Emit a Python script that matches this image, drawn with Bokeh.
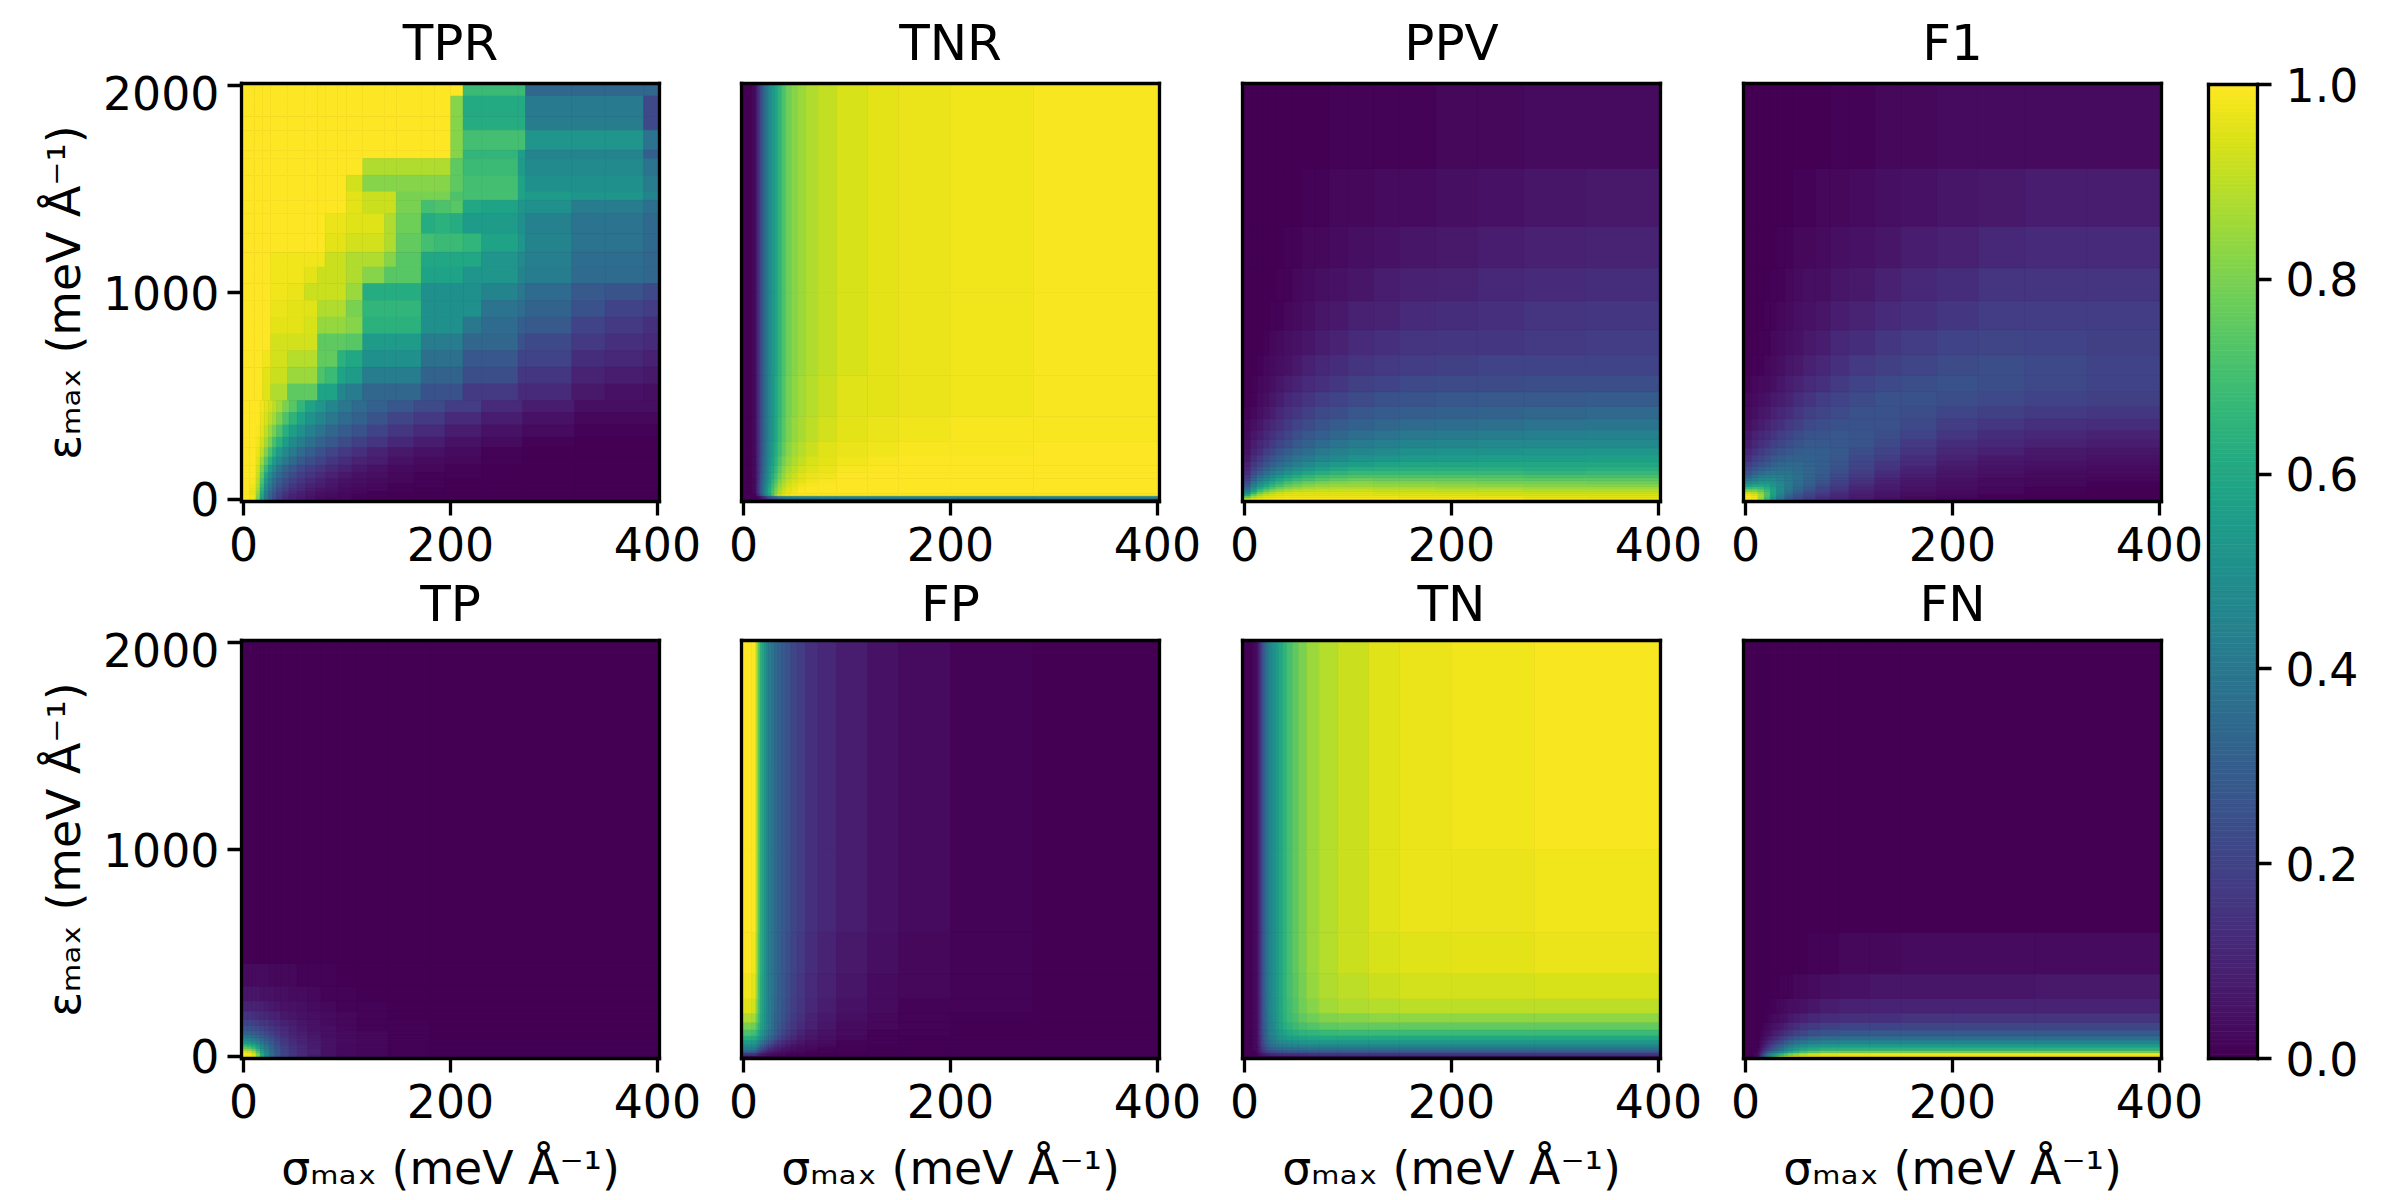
from bokeh.core.properties import value
from bokeh.embed import file_html
from bokeh.layouts import column, row
from bokeh.models import ColumnDataSource, FixedTicker, LinearAxis, PrintfTickFormatter, Range1d
from bokeh.palettes import Viridis256
from bokeh.plotting import figure
from bokeh.resources import INLINE
from bokeh.transform import linear_cmap

FONT = "DejaVu Sans"
X_LABEL = "σₘₐₓ (meV Å⁻¹)"
Y_LABEL = "εₘₐₓ (meV Å⁻¹)"
X_TICKS = [0, 200, 400]
Y_TICKS = [0, 1000, 2000]
CB_TICKS = [0.0, 0.2, 0.4, 0.6, 0.8, 1.0]
TITLES_TOP = ["TPR", "TNR", "PPV", "F1"]
TITLES_BOTTOM = ["TP", "FP", "TN", "FN"]

# ---- TPR upper part (rows listed from the top of the panel downwards), values in percent
tpr_sigma = [-2, 10.3, 18.4, 26.4, 42.6, 58.8, 71.7, 78.8, 91.1, 99.2, 115.3, 136.3, 147.6, 171.9, 184.8, 200.3, 212.3, 230, 265.6, 272.7, 317.3, 349.6, 386.8, 402]
tpr_eps = [2010, 1949, 1849, 1784, 1687, 1647, 1566, 1486, 1445, 1381, 1284, 1195, 1123, 1042, 961, 881, 800, 719, 639, 558, 477]
tpr_vals = [
    [100,100,100,100,100,100,100,100,100,100,100,100,100,100,100,100,68,68,68,33,33,33,33],
    [100,100,100,100,100,100,100,100,100,100,100,100,100,100,100,82,61,61,61,41,41,41,22],
    [100,100,100,100,100,100,100,100,100,100,100,100,100,100,100,82,62,62,62,42,42,42,22],
    [100,100,100,100,100,100,100,100,100,100,100,100,100,100,100,82,70,70,70,52,52,52,38],
    [100,100,100,100,100,100,100,100,100,100,100,100,100,100,100,82,66,66,56,45,45,45,30],
    [100,100,100,100,100,100,100,100,100,100,88,88,88,88,88,75,68,68,55,48,48,48,38],
    [100,100,100,100,100,100,100,100,100,93,82,82,82,82,82,75,70,70,58,50,50,50,42],
    [100,100,100,100,100,100,100,100,100,96,92,92,80,80,80,72,70,70,58,55,52,52,45],
    [100,100,100,100,100,100,100,100,100,96,92,92,80,70,72,74,60,58,52,50,42,42,37],
    [100,100,100,100,100,100,100,97,97,95,95,88,78,62,64,62,55,55,50,44,38,38,34],
    [100,100,100,100,100,100,100,96,96,93,93,88,76,70,68,68,66,58,52,45,38,38,34],
    [100,100,100,98,98,98,98,92,92,88,88,82,74,60,60,60,60,52,48,43,36,36,33],
    [100,100,100,98,98,96,92,92,92,88,82,74,74,58,58,58,52,52,45,42,35,35,33],
    [100,100,100,98,97,92,92,92,92,85,62,62,62,50,50,50,50,45,40,35,28,26,22],
    [100,100,100,97,96,95,88,88,88,80,66,66,66,50,50,50,50,38,36,32,25,20,18],
    [100,100,100,96,96,94,84,84,84,82,64,64,64,50,50,50,40,35,30,28,20,17,14],
    [100,100,100,93,93,93,75,75,75,74,55,55,55,42,42,42,33,33,25,22,17,14,12],
    [100,100,98,93,89,89,76,76,64,60,50,50,50,37,37,37,27,27,20,20,13,11,9],
    [100,100,96,92,85,85,72,68,58,55,42,42,42,32,32,32,24,24,16,16,10,8,7],
    [100,100,95,88,75,75,58,58,46,42,33,33,33,25,25,25,17,17,12,12,7,5,4],
]
# ---- TPR lower part
tpr_low_sigma = [-2, 6, 12, 16, 20, 24, 28, 32, 38, 44, 52, 60, 70, 80, 92, 105, 120, 140, 165, 195, 230, 270, 320, 402]
tpr_low_eps = [477, 420, 360, 300, 250, 205, 165, 130, 100, 75, 55, 38, 24, 12, -10]
tpr_low_vals = [
    [100,100,100,98,96,93,90,86,80,74,66,58,52,46,40,35,31,27,23,18,12,8,4],
    [100,100,100,97,94,90,86,80,72,65,58,51,46,40,35,31,26,21,17,12,8,5,2],
    [100,100,99,96,91,85,79,72,63,56,50,44,38,33,29,25,20,16,12,8,5,3,1],
    [100,100,98,93,87,80,71,64,55,48,42,37,32,27,23,19,15,11,8,5,3,1,0],
    [100,100,97,90,81,72,63,55,47,41,35,30,25,21,17,14,10,7,5,3,1,0,0],
    [100,100,95,85,74,64,55,47,40,34,28,24,20,16,13,10,8,5,3,2,1,0,0],
    [100,100,93,80,67,55,47,39,32,27,22,18,15,12,9,7,5,3,2,1,0,0,0],
    [100,100,92,76,60,49,41,34,28,23,18,15,12,9,7,5,4,2,1,1,0,0,0],
    [100,99,90,72,55,44,36,29,24,19,15,12,9,7,5,4,3,2,1,0,0,0,0],
    [100,98,88,68,50,40,33,26,21,16,13,10,8,6,4,3,2,1,1,0,0,0,0],
    [100,97,86,65,47,37,30,23,18,14,11,8,6,5,3,2,2,1,0,0,0,0,0],
    [100,97,84,62,44,34,27,21,16,12,9,7,5,4,3,2,1,1,0,0,0,0,0],
    [100,98,82,60,42,32,25,19,14,10,8,6,4,3,2,1,1,0,0,0,0,0,0],
    [100,98,80,57,40,30,23,17,12,9,7,5,3,2,2,1,0,0,0,0,0,0,0],
]

# ---- grid for TNR / FP / TN / FN (rows from the bottom of the panel upwards)
edge_sigma = [-2, 8, 12, 14, 16, 18, 20, 22, 24, 27, 30, 33, 37, 41, 46, 52, 60, 72, 90, 120, 150, 200, 280, 402]
edge_eps = [-10, 5, 18, 30, 45, 60, 80, 100, 130, 165, 210, 280, 400, 600, 1000, 2010]

tnr_vals = [
    [0,0,0,1,1,2,2,2,3,3,3,4,4,4,4,4,4,4,4,4,4,4,4],
    [0,0,1,3,6,10,14,20,25,30,35,40,42,44,45,45,45,46,46,46,46,46,46],
    [0,1,6,14,24,34,44,52,60,72,84,92,96,98,100,100,100,100,100,100,100,100,100],
    [0,2,9,18,28,38,46,54,62,72,81,88,93,96,98,100,100,100,100,100,100,100,100],
    [0,2,9,18,28,37,45,53,61,70,79,86,91,95,97,99,100,100,100,100,100,100,100],
    [0,2,9,18,27,36,44,51,59,68,76,84,89,93,96,98,99,100,100,100,100,100,100],
    [0,2,8,17,26,34,42,49,56,65,73,81,87,91,94,96,98,99,100,100,100,100,100],
    [0,2,8,16,25,33,40,47,54,62,70,78,84,89,92,95,97,98,100,100,100,100,100],
    [0,2,8,15,24,32,39,45,52,59,67,75,82,87,90,93,95,97,99,100,100,100,100],
    [0,2,8,15,23,31,38,44,50,57,64,72,79,84,88,91,94,96,98,99,100,100,100],
    [0,2,8,15,22,30,36,43,49,55,62,69,76,82,86,89,92,95,97,98,99,99,100],
    [0,2,8,15,22,30,36,42,48,53,60,67,74,80,84,87,90,93,96,97,98,99,99],
    [0,2,8,15,22,30,36,42,48,52,59,66,73,79,83,86,89,92,95,96,97,98,99],
    [0,2,8,15,22,30,36,42,48,52,58,65,72,78,82,85,88,91,94,96,97,98,99],
    [0,2,8,15,22,30,36,42,48,52,58,65,72,78,82,85,88,91,94,96,97,98,99],
]
fp_vals = [
    [3,3,3,2,2,2,1,1,1,1,1,0,0,0,0,0,0,0,0,0,0,0,0],
    [15,15,12,10,8,7,6,5,4,3,3,2,2,1,1,1,0,0,0,0,0,0,0],
    [32,30,25,20,17,14,12,10,8,7,6,5,4,3,2,2,1,1,0,0,0,0,0],
    [42,40,36,30,26,22,20,16,13,11,9,8,6,5,4,3,2,1,1,0,0,0,0],
    [48,47,43,38,33,30,27,23,19,16,13,11,9,7,5,4,3,2,1,0,0,0,0],
    [55,54,50,46,42,38,34,30,26,22,18,15,12,10,8,6,4,3,1,1,0,0,0],
    [63,62,58,54,50,46,42,38,33,29,25,21,17,14,11,8,6,4,2,1,0,0,0],
    [72,70,66,60,56,52,48,43,38,34,29,25,21,17,14,10,7,5,3,1,1,0,0],
    [80,78,72,66,60,56,52,47,41,36,31,27,23,19,16,12,9,6,3,2,1,0,0],
    [88,86,78,70,62,58,53,47,42,37,32,29,25,21,17,14,10,7,4,2,1,0,0],
    [95,93,82,72,63,58,54,48,42,38,33,30,26,22,18,15,11,8,5,3,1,1,0],
    [98,96,85,73,64,59,54,48,42,38,34,30,27,23,19,16,12,9,6,3,2,1,0],
    [100,98,87,74,65,60,55,48,42,38,34,31,27,24,20,17,13,10,7,4,2,1,0],
    [100,100,88,75,65,60,55,48,42,38,34,31,28,25,21,18,14,11,8,5,3,1,0],
    [100,100,88,75,65,60,55,48,42,38,34,31,28,25,21,18,14,11,8,5,3,1,0],
]
tn_vals = [
    [0,0,1,1,2,2,3,3,3,4,4,4,4,4,4,5,5,5,5,5,5,5,5],
    [0,1,2,4,6,8,9,10,11,12,13,13,14,14,14,14,15,15,15,15,15,15,15],
    [0,1,4,8,12,15,18,20,22,23,25,26,26,27,27,27,28,28,28,28,28,28,28],
    [0,2,5,10,16,20,24,27,29,31,33,34,35,35,36,36,37,37,37,37,37,37,37],
    [0,2,5,11,18,23,28,32,35,37,39,41,42,43,44,44,45,45,45,45,45,45,45],
    [0,2,6,12,19,25,30,35,38,41,44,47,48,49,50,51,52,52,52,52,52,52,52],
    [0,2,6,12,20,27,32,37,41,44,48,52,54,56,57,58,59,60,60,60,60,60,60],
    [0,2,6,13,21,28,33,39,43,46,51,55,58,61,63,65,66,67,68,68,68,68,68],
    [0,2,6,13,22,29,34,40,44,48,53,58,62,65,68,71,73,75,76,76,76,76,76],
    [0,2,6,13,22,30,35,41,45,49,54,59,64,68,71,75,78,81,82,83,83,83,83],
    [0,2,6,13,22,30,36,42,46,50,55,60,65,69,73,78,82,86,88,89,90,90,90],
    [0,2,6,13,22,30,36,42,46,50,55,60,65,70,74,79,84,88,90,92,93,93,94],
    [0,2,6,13,22,30,36,42,46,50,55,60,65,70,75,80,85,89,92,94,95,96,97],
    [0,2,6,13,22,30,36,42,46,50,55,60,65,70,75,80,85,89,92,95,97,97,98],
    [0,2,6,13,22,30,36,42,46,50,55,60,65,70,75,80,85,89,92,95,97,98,99],
]
fn_vals = [
    [0,3,8,18,28,36,44,52,60,68,76,84,90,95,98,100,100,100,100,100,100,100,100],
    [0,2,5,12,20,28,36,42,48,54,60,66,72,78,83,88,92,95,97,98,98,98,98],
    [0,1,4,9,14,19,25,30,34,38,43,48,54,60,66,70,74,77,78,78,78,78,78],
    [0,1,2,6,10,14,17,21,24,28,32,37,43,49,54,58,61,63,64,64,64,64,64],
    [0,0,1,4,7,10,13,16,19,23,27,31,36,41,46,49,52,54,55,55,55,55,55],
    [0,0,1,3,5,7,9,12,14,17,20,23,28,32,36,39,42,44,45,45,45,45,45],
    [0,0,0,2,3,5,6,8,10,12,14,17,20,24,27,30,33,35,36,36,36,36,36],
    [0,0,0,1,2,3,4,5,6,8,9,11,14,16,19,21,24,26,27,28,28,28,28],
    [0,0,0,0,1,2,2,3,4,5,6,7,9,11,13,15,17,19,20,20,21,21,21],
    [0,0,0,0,0,1,1,2,2,3,3,4,5,7,8,9,11,13,14,14,15,15,15],
    [0,0,0,0,0,0,0,1,1,1,2,2,3,4,4,5,6,8,9,10,10,10,10],
    [0,0,0,0,0,0,0,0,0,0,0,1,1,1,2,2,3,4,5,6,6,6,7],
    [0,0,0,0,0,0,0,0,0,0,0,0,0,0,0,0,1,1,2,2,3,3,3],
    [0,0,0,0,0,0,0,0,0,0,0,0,0,0,0,0,0,0,0,0,0,0,0],
    [0,0,0,0,0,0,0,0,0,0,0,0,0,0,0,0,0,0,0,0,0,0,0],
]

# ---- grid for PPV / F1 (rows from the bottom of the panel upwards)
soft_sigma = [-2, 6, 12, 18, 24, 30, 38, 46, 56, 68, 82, 100, 125, 150, 185, 225, 270, 330, 402]
soft_eps = [-10, 8, 18, 28, 38, 50, 62, 75, 90, 105, 122, 140, 160, 185, 215, 250, 290, 335, 390, 450, 520, 600, 700, 820, 960, 1120, 1320, 1600, 2010]

ppv_vals = [
    [90,95,97,98,99,100,100,100,100,100,100,100,100,100,100,100,98,97],
    [76,87,92,95,96,97,98,98,98,98,98,98,98,97,97,97,96,95],
    [60,78,86,91,93,95,96,96,96,96,96,96,95,95,95,94,94,94],
    [48,66,78,85,89,92,94,95,95,95,95,95,94,94,93,93,92,92],
    [40,57,68,76,81,85,88,90,91,92,92,92,91,91,90,90,89,89],
    [34,50,60,67,73,78,82,85,87,88,89,89,88,88,87,87,86,86],
    [28,43,53,60,66,71,76,79,82,84,85,85,84,84,84,83,82,82],
    [23,37,47,54,60,65,70,74,77,79,81,82,81,81,80,79,79,78],
    [19,32,41,48,53,59,64,68,71,74,76,78,77,77,77,76,75,75],
    [16,27,35,42,47,52,58,62,66,69,71,72,72,72,72,72,71,71],
    [13,23,30,36,41,46,51,55,59,62,65,67,67,67,67,67,66,67],
    [11,19,25,31,36,40,45,49,53,57,60,62,63,63,63,63,62,63],
    [9,16,21,26,31,35,39,43,47,51,54,56,58,59,59,60,60,60],
    [7,13,17,22,26,30,34,38,41,45,48,51,53,54,55,56,56,57],
    [5,10,13,18,21,25,29,33,36,40,43,46,48,50,51,51,52,52],
    [4,8,11,14,17,21,24,28,31,35,38,41,43,45,46,47,47,48],
    [3,6,8,11,14,17,20,24,27,30,33,36,38,40,41,42,43,44],
    [2,4,6,9,11,14,17,20,23,26,29,31,33,35,36,37,38,39],
    [1,2,4,6,8,11,14,16,19,22,24,27,29,30,31,32,33,34],
    [0,1,3,4,6,8,11,13,15,18,20,23,25,26,27,28,28,29],
    [0,1,2,3,4,6,8,10,12,14,16,19,20,22,23,23,24,24],
    [0,0,1,2,3,4,5,7,9,11,13,15,17,18,19,20,20,20],
    [0,0,0,1,2,3,4,5,6,8,10,12,14,15,16,16,17,18],
    [0,0,0,0,1,1,2,3,4,6,7,9,10,12,13,14,15,16],
    [0,0,0,0,0,1,1,2,3,4,5,6,8,9,10,11,12,13],
    [0,0,0,0,0,0,1,1,2,2,3,4,5,6,7,8,9,10],
    [0,0,0,0,0,0,0,0,1,1,2,2,3,3,4,5,6,7],
    [0,0,0,0,0,0,0,0,0,0,1,1,1,1,2,2,3,3],
]
f1_vals = [
    [100,98,85,68,50,38,28,22,17,13,10,7,4,3,1,1,0,0],
    [100,98,87,70,54,41,30,24,19,14,11,8,5,3,2,1,0,0],
    [98,95,86,72,57,44,33,26,21,16,12,8,6,4,2,1,1,0],
    [92,90,82,72,58,46,36,29,23,18,13,9,6,4,3,2,1,0],
    [80,80,76,68,58,47,38,31,25,20,15,10,7,5,3,2,1,0],
    [68,70,68,63,56,48,40,33,27,21,16,11,8,5,4,2,1,1],
    [56,60,60,58,53,47,41,35,29,23,18,12,8,6,4,3,2,1],
    [46,50,53,53,50,46,41,36,31,25,19,14,9,6,4,3,2,1],
    [38,43,46,48,47,44,41,37,32,27,21,15,10,7,5,3,2,2],
    [31,37,41,43,43,42,40,37,33,28,23,17,12,8,6,4,3,2],
    [26,31,35,38,39,39,38,36,33,29,24,18,13,9,6,5,3,3],
    [22,26,30,33,35,36,36,35,33,30,25,20,15,10,7,5,4,3],
    [18,22,25,28,31,33,34,34,32,30,26,21,16,12,8,6,5,4],
    [14,18,21,24,27,29,31,31,31,30,27,22,18,13,10,7,6,5],
    [11,14,17,20,23,25,27,29,30,30,28,24,20,15,11,9,7,6],
    [8,11,14,16,19,21,24,26,28,28,27,26,22,17,13,11,9,8],
    [6,9,11,13,15,18,20,23,25,26,27,26,24,20,16,13,11,10],
    [4,6,8,10,12,14,17,19,22,24,25,25,25,22,18,16,14,13],
    [3,4,6,7,9,11,13,16,19,21,23,25,25,24,21,19,17,16],
    [2,3,4,5,7,8,10,13,15,18,20,23,25,25,24,22,20,19],
    [1,2,3,3,4,6,8,10,12,14,17,20,22,24,25,24,22,20],
    [0,1,1,2,3,4,6,7,9,11,14,17,19,21,23,24,22,20],
    [0,0,1,1,2,3,4,5,7,8,11,13,16,18,20,21,20,19],
    [0,0,0,1,1,2,3,4,5,6,8,10,12,14,16,18,18,18],
    [0,0,0,0,1,1,2,3,4,4,6,7,9,11,13,15,15,15],
    [0,0,0,0,0,1,1,2,2,3,4,5,6,8,9,11,12,12],
    [0,0,0,0,0,0,0,1,1,2,2,3,4,5,6,7,8,8],
    [0,0,0,0,0,0,0,0,0,0,1,1,2,2,3,3,3,3],
]

# ---- TP grid (rows from the bottom of the panel upwards)
tp_sigma = [-2, 4, 8, 12, 16, 20, 25, 30, 36, 44, 52, 62, 75, 90, 110, 140, 180, 402]
tp_eps = [-10, 5, 12, 20, 30, 40, 50, 62, 75, 90, 105, 125, 150, 180, 220, 270, 340, 450, 2010]
tp_vals = [
    [100,100,98,82,62,48,36,28,21,16,12,8,5,3,2,1,0],
    [100,100,96,82,62,48,36,28,21,16,12,8,5,3,2,1,0],
    [100,98,92,78,60,47,36,28,21,16,12,9,5,3,2,1,0],
    [96,94,86,72,57,45,35,27,21,16,12,9,5,3,2,1,0],
    [84,82,76,65,53,43,34,27,20,15,12,9,5,3,2,1,0],
    [74,72,66,58,48,40,32,25,19,15,12,8,5,3,2,1,0],
    [64,62,58,51,44,37,30,24,18,14,11,8,5,3,2,1,0],
    [55,53,50,45,39,33,27,22,17,13,10,8,5,3,2,1,0],
    [46,45,42,39,34,29,25,20,16,12,10,7,5,3,2,1,0],
    [39,38,36,33,29,26,22,18,14,11,9,7,4,3,2,1,0],
    [32,31,30,27,25,22,19,16,13,10,8,6,4,3,2,1,0],
    [26,25,24,22,21,18,16,14,11,9,7,5,4,2,1,1,0],
    [20,20,19,18,16,15,13,11,9,8,6,5,3,2,1,1,0],
    [15,15,14,13,12,11,10,9,7,6,5,4,3,2,1,0,0],
    [10,10,10,9,9,8,7,6,5,5,4,3,2,1,1,0,0],
    [6,6,6,6,5,5,5,4,4,3,3,2,1,1,0,0,0],
    [3,3,3,3,3,3,2,2,2,2,1,1,1,0,0,0,0],
    [0,0,0,0,0,0,0,0,0,0,0,0,0,0,0,0,0],
]


def spine():
    return LinearAxis(ticker=FixedTicker(ticks=[]), axis_line_width=3.3, axis_line_color="black",
                      axis_line_cap="square", major_tick_in=0, major_tick_out=0,
                      minor_tick_in=0, minor_tick_out=0, major_label_standoff=0)


def panel(blocks, left, right, top, bottom, show_y, show_x_label):
    p = figure(frame_width=418, frame_height=418, output_backend="svg", toolbar_location=None,
               x_range=Range1d(-2, 402), y_range=Range1d(-10, 2010),
               min_border_left=left, min_border_right=right, min_border_top=top, min_border_bottom=bottom,
               background_fill_color="#440154")
    l, r, t, b, v = [], [], [], [], []
    for sigma, eps, vals in blocks:
        for j, rw in enumerate(vals):
            for i, c in enumerate(rw):
                l.append(sigma[i]); r.append(sigma[i + 1])
                b.append(min(eps[j], eps[j + 1])); t.append(max(eps[j], eps[j + 1]))
                v.append(c / 100)
    src = ColumnDataSource(dict(l=l, r=r, t=t, b=b, v=v))
    cmap = linear_cmap("v", Viridis256, 0, 1)
    p.quad(left="l", right="r", top="t", bottom="b", source=src, fill_color=cmap, line_color=cmap, line_width=0.7)

    p.grid.visible = False
    p.outline_line_color = None
    p.add_layout(spine(), "above")
    p.add_layout(spine(), "right")

    p.below[0].ticker = FixedTicker(ticks=X_TICKS)
    p.left[0].ticker = FixedTicker(ticks=Y_TICKS if show_y else [])
    for ax in (p.below[0], p.left[0]):
        ax.major_tick_in = 0
        ax.major_tick_out = 14
        ax.minor_tick_in = 0
        ax.minor_tick_out = 0
        ax.major_tick_line_width = 3.3
        ax.major_tick_line_color = "black"
        ax.axis_line_width = 3.3
        ax.axis_line_color = "black"
        ax.axis_line_cap = "square"
        ax.major_label_text_font = FONT
        ax.major_label_text_font_size = "45.8px"
        ax.major_label_text_color = "black"
        ax.major_label_standoff = 8
        ax.axis_label_text_font = FONT
        ax.axis_label_text_font_size = "45.8px"
        ax.axis_label_text_font_style = "normal"
        ax.axis_label_text_color = "black"
    p.below[0].major_label_standoff = 11
    if show_x_label:
        p.below[0].axis_label = X_LABEL
        p.below[0].axis_label_standoff = 20
    if show_y:
        p.left[0].axis_label = Y_LABEL
        p.left[0].axis_label_standoff = 9
    else:
        p.left[0].major_tick_out = 0
        p.left[0].major_label_standoff = 0
    return p


def title_strip(titles, height, baseline):
    s = figure(frame_width=2203, frame_height=height, output_backend="svg", toolbar_location=None,
               x_range=Range1d(0, 2203), y_range=Range1d(0, height),
               x_axis_location=None, y_axis_location=None,
               min_border_left=0, min_border_right=0, min_border_top=0, min_border_bottom=0)
    s.grid.visible = False
    s.outline_line_color = None
    s.text(x=[450, 950, 1451, 1952], y=[baseline] * 4, text=titles, text_align="center",
           text_baseline="alphabetic", text_font=value(FONT), text_font_size="50px", text_color="black")
    return s


TOP, BOT1, BOT2 = 8, 79, 140
tpr_blocks = [(tpr_sigma, tpr_eps, tpr_vals), (tpr_low_sigma, tpr_low_eps, tpr_low_vals)]
row1 = row(
    panel(tpr_blocks, 241, 60, TOP, BOT1, True, False),
    panel([(edge_sigma, edge_eps, tnr_vals)], 22, 60, TOP, BOT1, False, False),
    panel([(soft_sigma, soft_eps, ppv_vals)], 23, 60, TOP, BOT1, False, False),
    panel([(soft_sigma, soft_eps, f1_vals)], 23, 42, TOP, BOT1, False, False),
    spacing=0)
row2 = row(
    panel([(tp_sigma, tp_eps, tp_vals)], 241, 60, TOP, BOT2, True, True),
    panel([(edge_sigma, edge_eps, fp_vals)], 22, 60, TOP, BOT2, False, True),
    panel([(edge_sigma, edge_eps, tn_vals)], 23, 60, TOP, BOT2, False, True),
    panel([(edge_sigma, edge_eps, fn_vals)], 23, 42, TOP, BOT2, False, True),
    spacing=0)

# colour bar: one band per palette entry
n = len(Viridis256)
cb = figure(frame_width=49, frame_height=974, output_backend="svg", toolbar_location=None,
            x_range=Range1d(0, 1), y_range=Range1d(0, 1), y_axis_location="right",
            min_border_left=5, min_border_right=110, min_border_top=84, min_border_bottom=140)
cb.quad(left=[0] * n, right=[1] * n, bottom=[i / n for i in range(n)], top=[(i + 1) / n for i in range(n)],
        fill_color=list(Viridis256), line_color=list(Viridis256), line_width=0.7)
cb.grid.visible = False
cb.outline_line_color = None
cb.add_layout(spine(), "left")
cb.add_layout(spine(), "above")
bx = cb.below[0]
bx.ticker = FixedTicker(ticks=[])
bx.axis_line_width = 3.3
bx.axis_line_cap = "square"
bx.major_tick_in = 0
bx.major_tick_out = 0
bx.minor_tick_in = 0
bx.minor_tick_out = 0
bx.major_label_standoff = 0
ay = cb.right[0]
ay.ticker = FixedTicker(ticks=CB_TICKS)
ay.formatter = PrintfTickFormatter(format="%.1f")
ay.major_tick_in = 0
ay.major_tick_out = 14
ay.minor_tick_in = 0
ay.minor_tick_out = 0
ay.major_tick_line_width = 3.3
ay.axis_line_width = 3.3
ay.axis_line_cap = "square"
ay.major_label_text_font = FONT
ay.major_label_text_font_size = "45.8px"
ay.major_label_text_color = "black"
ay.major_label_standoff = 14

grid = column(title_strip(TITLES_TOP, 75, 33), row1, title_strip(TITLES_BOTTOM, 52, 29), row2, spacing=0)
page = row(grid, cb, spacing=0)
open("out.html", "w").write(file_html(page, INLINE))
